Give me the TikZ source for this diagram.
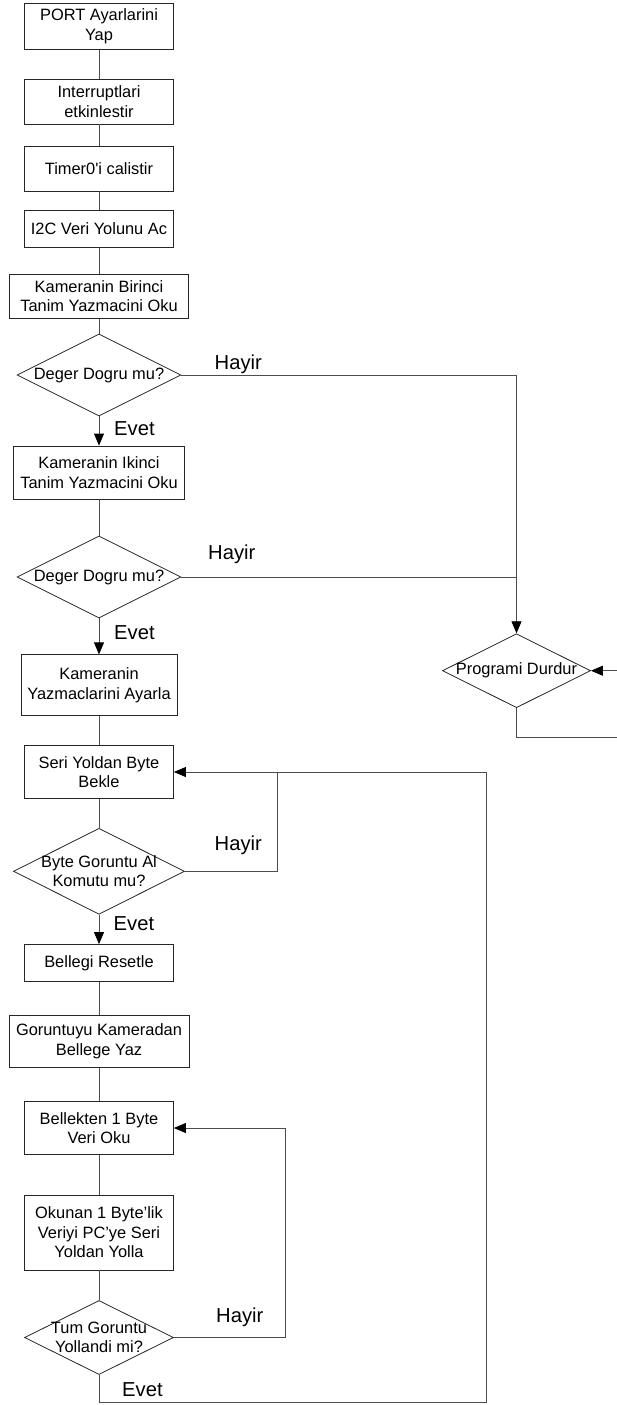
\documentclass[tikz,border=0pt]{standalone}
\usepackage{fontspec}
\setmainfont{Liberation Sans}
\usetikzlibrary{arrows.meta,shapes.geometric}
\newcommand{\flowfont}{\fontsize{16.4}{19.5}\selectfont}
\newcommand{\branchfont}{\fontsize{20.2}{24}\selectfont}
\definecolor{linegray}{rgb}{0.3,0.3,0.3}

\begin{document}
\begin{tikzpicture}[x=1pt,y=-1pt]
    \tikzstyle{box_style} = [draw=black!85, line width=0.8pt, rectangle, align=center, inner sep=2pt, font=\flowfont]
    \tikzstyle{ask_style} = [draw=black!85, line width=0.8pt, diamond, inner sep=0pt]
    \tikzstyle{ask_text} = [font=\flowfont, align=center, inner sep=0pt]
    \tikzstyle{tag_style} = [font=\branchfont, anchor=base west, inner sep=0pt]
    \tikzstyle{line_style} = [draw=linegray, line width=0.8pt]
    \tikzstyle{arrow_style} = [line_style, -{Triangle[length=12pt,width=10pt,color=black]}]

    \def\cx{99}

    \useasboundingbox (0,0) rectangle (617,1405);

    % ana akis
    \node[box_style, minimum width=149pt, minimum height=46pt] (port) at (\cx,26.2) {PORT Ayarlarini\\Yap};
    \node[box_style, minimum width=149pt, minimum height=45pt] (intr) at (\cx,101.5) {Interruptlari\\etkinlestir};
    \node[box_style, minimum width=149pt, minimum height=45pt] (timer) at (\cx,168.5) {Timer0\textquotesingle i calistir};
    \node[box_style, minimum width=149pt, minimum height=37pt] (itwoc) at (\cx,228.7) {I2C Veri Yolunu Ac};
    \node[box_style, minimum width=179pt, minimum height=44pt] (cam1) at (\cx,296.2) {Kameranin Birinci\\Tanim Yazmacini Oku};
    \node[ask_style, minimum width=164pt, minimum height=82pt,
          label={[ask_text]center:Deger Dogru mu?}] (chk1) at (\cx,375) {};
    \node[box_style, minimum width=171pt, minimum height=53pt] (cam2) at (\cx,472.5) {Kameranin Ikinci\\Tanim Yazmacini Oku};
    \node[ask_style, minimum width=164pt, minimum height=82pt,
          label={[ask_text]center:Deger Dogru mu?}] (chk2) at (\cx,577) {};
    \node[box_style, minimum width=156pt, minimum height=61pt] (camset) at (\cx,685.3) {Kameranin\\Yazmaclarini Ayarla};
    \node[box_style, minimum width=149pt, minimum height=53pt] (wait) at (\cx,772) {Seri Yoldan Byte\\Bekle};
    \node[ask_style, minimum width=171pt, minimum height=86pt,
          label={[ask_text]center:{Byte Goruntu Al\\Komutu mu?}}] (cmd) at (\cx,871.3) {};
    \node[box_style, minimum width=149pt, minimum height=37pt] (reset) at (\cx,963) {Bellegi Resetle};
    \node[box_style, minimum width=180pt, minimum height=52pt] (grab) at (\cx,1041.2) {Goruntuyu Kameradan\\Bellege Yaz};
    \node[box_style, minimum width=149pt, minimum height=53pt] (rdbyte) at (\cx,1128) {Bellekten 1 Byte\\Veri Oku};
    \node[box_style, minimum width=149pt, minimum height=75pt] (send) at (\cx,1232.5) {Okunan 1 Byte'lik\\Veriyi PC'ye Seri\\Yoldan Yolla};
    \node[ask_style, minimum width=149pt, minimum height=74pt,
          label={[ask_text]center:{Tum Goruntu\\Yollandi mi?}}] (done) at (\cx,1337.5) {};

    % hata durumu
    \node[ask_style, minimum width=148pt, minimum height=74pt,
          label={[ask_text]center:Programi Durdur}] (stop) at (516.5,670.7) {};

    \coordinate (stopin) at (617,670.7);
    \coordinate (stopout) at (617,737.7);
    \coordinate (waitjoin) at (277.7,772);
    \coordinate (waitback) at (486.7,772);
    \coordinate (floor) at (\cx,1402.3);
    \coordinate (readback) at (285.7,1128);

    \draw[line_style] (port.south) -- (intr.north);
    \draw[line_style] (intr.south) -- (timer.north);
    \draw[line_style] (timer.south) -- (itwoc.north);
    \draw[line_style] (itwoc.south) -- (cam1.north);
    \draw[line_style] (cam1.south) -- (chk1.north);
    \draw[arrow_style] (chk1.south) -- (cam2.north);
    \draw[line_style] (cam2.south) -- (chk2.north);
    \draw[arrow_style] (chk2.south) -- (camset.north);
    \draw[line_style] (camset.south) -- (wait.north);
    \draw[line_style] (wait.south) -- (cmd.north);
    \draw[arrow_style] (cmd.south) -- (reset.north);
    \draw[line_style] (reset.south) -- (grab.north);
    \draw[line_style] (grab.south) -- (rdbyte.north);
    \draw[line_style] (rdbyte.south) -- (send.north);
    \draw[line_style] (send.south) -- (done.north);

    \draw[arrow_style] (chk1.east) -| (stop.north);
    \draw[line_style] (chk2.east) -- (chk2.east -| stop.north);
    \draw[arrow_style] (stopin) -- (stop.east);
    \draw[line_style] (stop.south) |- (stopout);

    \draw[arrow_style] (waitback) -- (wait.east);
    \draw[line_style] (cmd.east) -| (waitjoin);
    \draw[line_style] (done.south) -- (floor) -| (waitback);
    \draw[arrow_style] (done.east) -| (readback) -- (rdbyte.east);

    \node[tag_style] (evet1) at (114,435.7) {Evet};
    \node[tag_style] (evet2) at (114,639) {Evet};
    \node[tag_style] (evet3) at (113.5,930) {Evet};
    \node[tag_style] (evet4) at (122,1396) {Evet};
    \node[tag_style] (hayir1) at (214.5,369.3) {Hayir};
    \node[tag_style] (hayir2) at (208,559.3) {Hayir};
    \node[tag_style] (hayir3) at (214.5,850) {Hayir};
    \node[tag_style] (hayir4) at (216,1322.8) {Hayir};

\end{tikzpicture}
\end{document}
